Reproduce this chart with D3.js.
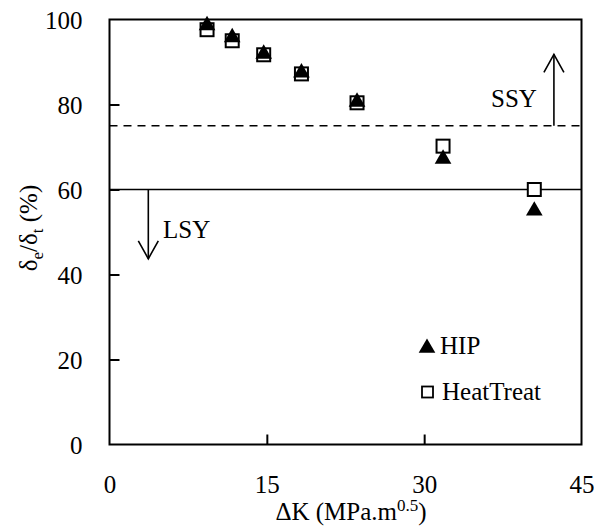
<!DOCTYPE html>
<html>
<head>
<meta charset="utf-8">
<script src="https://cdn.jsdelivr.net/npm/d3@7"></script>
<style>
  html, body { margin: 0; padding: 0; background: #fff; }
  svg { display: block; }
  text { font-family: "Liberation Serif", "DejaVu Serif", serif; fill: #000; }
</style>
</head>
<body>
<svg id="chart" width="594" height="526"></svg>
<script>
// Stress intensity range (MPa.m^0.5) and effective/total displacement ratio (%)
const deltaK = [9.3, 11.7, 14.7, 18.3, 23.6, 31.8, 40.5];
const hip = [98.6, 95.8, 91.9, 87.5, 80.6, 67.2, 55.0];
const heatTreat = [97.6, 95.0, 91.7, 87.2, 80.4, 70.2, 60.0];
const xTicks = [0, 15, 30, 45];
const yTicks = [0, 20, 40, 60, 80, 100];
const ssyLevel = 75;
const lsyLevel = 60;

const FONT = "25px";
const svg = d3.select("#chart");
const plotLeft = 109.5, plotRight = 581.5, plotTop = 19.5, plotBottom = 444.5;

const x = d3.scaleLinear().domain([0, 45]).range([plotLeft, plotRight]);
const y = d3.scaleLinear().domain([0, 100]).range([plotBottom, plotTop]);

// Frame
svg.append("rect")
  .attr("x", plotLeft).attr("y", plotTop)
  .attr("width", plotRight - plotLeft).attr("height", plotBottom - plotTop)
  .attr("fill", "none").attr("stroke", "#000").attr("stroke-width", 2);

// Inward ticks
const yAxis = d3.axisLeft(y).tickValues(yTicks).tickSize(-10).tickPadding(27).tickFormat(d3.format("d"));
const gy = svg.append("g").attr("transform", `translate(${plotLeft},0)`).call(yAxis);
gy.select(".domain").remove();
gy.selectAll("line").attr("stroke-width", 2).filter(d => d === 0 || d === 100).remove();
gy.selectAll("text").style("font-size", FONT).attr("dy", "0.34em");

const xAxis = d3.axisBottom(x).tickValues(xTicks).tickSize(-10).tickPadding(31).tickFormat(d3.format("d"));
const gx = svg.append("g").attr("transform", `translate(0,${plotBottom})`).call(xAxis);
gx.select(".domain").remove();
gx.selectAll("line").attr("stroke-width", 2).filter(d => d === 0 || d === 45).remove();
gx.selectAll("text").style("font-size", FONT);

// Threshold lines
svg.append("line")
  .attr("x1", plotLeft).attr("x2", plotRight)
  .attr("y1", y(ssyLevel)).attr("y2", y(ssyLevel))
  .attr("stroke", "#000").attr("stroke-width", 1.6).attr("stroke-dasharray", "8,6");
svg.append("line")
  .attr("x1", plotLeft).attr("x2", plotRight)
  .attr("y1", y(lsyLevel)).attr("y2", y(lsyLevel))
  .attr("stroke", "#000").attr("stroke-width", 1.6);

// Region arrows
function arrow(xv, y0, y1) {
  const px = x(xv), p0 = y(y0), p1 = y(y1);
  const dir = p1 < p0 ? 1 : -1;
  svg.append("line").attr("x1", px).attr("x2", px).attr("y1", p0).attr("y2", p1)
    .attr("stroke", "#000").attr("stroke-width", 1.6);
  svg.append("path")
    .attr("d", `M${px - 10},${p1 + dir * 18}L${px},${p1}L${px + 10},${p1 + dir * 18}`)
    .attr("fill", "none").attr("stroke", "#000").attr("stroke-width", 1.6);
}
arrow(42.37, ssyLevel, 91.8);
arrow(3.7, lsyLevel, 43.7);

svg.append("text").attr("x", 491).attr("y", y(79.5))
  .style("font-size", FONT).text("SSY");
svg.append("text").attr("x", 163).attr("y", y(48.5))
  .style("font-size", FONT).text("LSY");

// Markers
const sq = 13;
svg.append("g").selectAll("rect").data(deltaK.map((k, i) => [k, heatTreat[i]])).join("rect")
  .attr("x", d => x(d[0]) - sq / 2).attr("y", d => y(d[1]) - sq / 2)
  .attr("width", sq).attr("height", sq)
  .attr("fill", "#fff").attr("stroke", "#000").attr("stroke-width", 2);

const tri = d3.symbol().type(d3.symbolTriangle).size(120);
svg.append("g").selectAll("path").data(deltaK.map((k, i) => [k, hip[i]])).join("path")
  .attr("d", tri)
  .attr("transform", d => `translate(${x(d[0])},${y(d[1])})`)
  .attr("fill", "#000");

// Legend
svg.append("path").attr("d", tri).attr("transform", "translate(427,348)").attr("fill", "#000");
svg.append("text").attr("x", 440).attr("y", 354).style("font-size", FONT).text("HIP");
svg.append("rect").attr("x", 422).attr("y", 386.5).attr("width", 11).attr("height", 11)
  .attr("fill", "#fff").attr("stroke", "#000").attr("stroke-width", 1.8);
svg.append("text").attr("x", 442).attr("y", 400).style("font-size", FONT).text("HeatTreat");

// Axis titles
const xt = svg.append("text").attr("x", 351).attr("y", 520).attr("text-anchor", "middle").style("font-size", "25px");
xt.append("tspan").text("ΔK (MPa.m");
xt.append("tspan").attr("dy", -9).style("font-size", "17px").text("0.5");
xt.append("tspan").attr("dy", 9).text(")");

const yt = svg.append("text").attr("transform", "translate(37,228) rotate(-90)").attr("text-anchor", "middle").style("font-size", "25px");
yt.append("tspan").text("δ");
yt.append("tspan").attr("dy", 6).style("font-size", "17px").text("e");
yt.append("tspan").attr("dy", -6).text("/δ");
yt.append("tspan").attr("dy", 6).style("font-size", "17px").text("t");
yt.append("tspan").attr("dy", -6).text(" (%)");
</script>
</body>
</html>
